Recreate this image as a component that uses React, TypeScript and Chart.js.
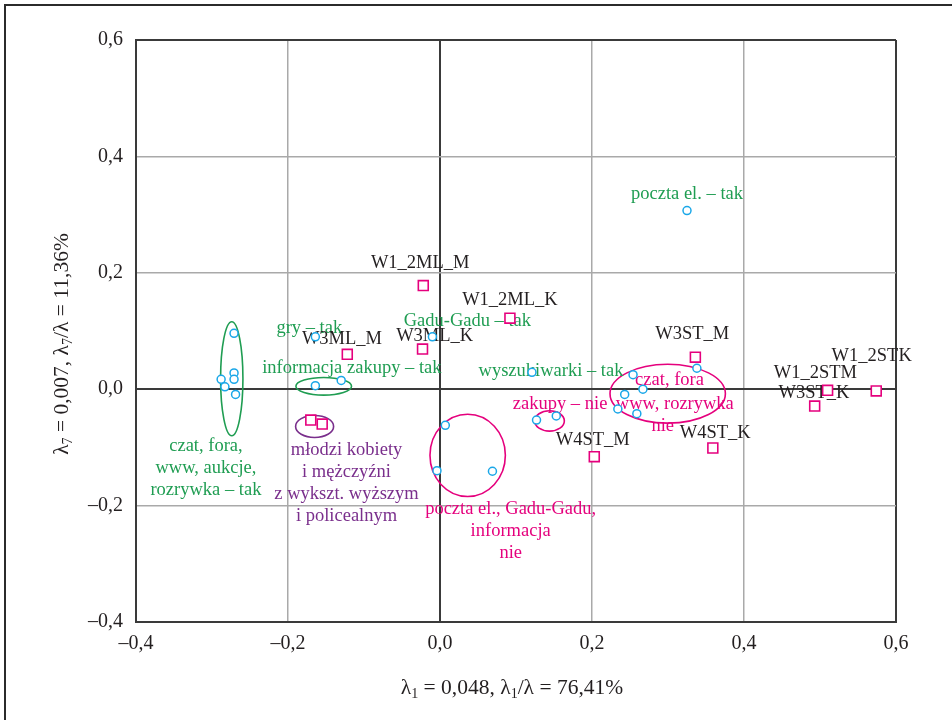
import React, { useEffect, useRef } from 'react';
import { Chart, registerables } from 'chart.js';

Chart.register(...registerables);

// ---- Data ----
// Rows (magenta squares)
const rowX = [-0.022, 0.092, -0.122, -0.023, -0.170, -0.155, 0.203, 0.336, 0.359, 0.510, 0.493, 0.574];
const rowY = [0.178, 0.122, 0.060, 0.069, -0.053, -0.060, -0.116, 0.055, -0.101, -0.002, -0.029, -0.003];

// Columns (cyan circles)
const colX = [-0.271, -0.271, -0.271, -0.288, -0.283, -0.269, -0.164, -0.130, -0.164, -0.010, 0.121, 0.325, 0.007, -0.004, 0.069, 0.127, 0.153, 0.254, 0.267, 0.243, 0.234, 0.259, 0.338];
const colY = [0.096, 0.028, 0.017, 0.017, 0.004, -0.009, 0.006, 0.015, 0.090, 0.090, 0.029, 0.307, -0.062, -0.140, -0.141, -0.053, -0.046, 0.025, 0.000, -0.009, -0.034, -0.042, 0.036];

// Axis ticks
const xTicks = [-0.4, -0.2, 0.0, 0.2, 0.4, 0.6];
const yTicks = [-0.4, -0.2, 0.0, 0.2, 0.4, 0.6];

// Row labels (black)
const blackText = ['W1_2ML_M', 'W1_2ML_K', 'W3ML_K', 'W3ML_M', 'W4ST_M', 'W3ST_M', 'W4ST_K', 'W1_2STM', 'W3ST_K', 'W1_2STK'];
const blackX = [-0.026, 0.092, -0.007, -0.129, 0.201, 0.332, 0.362, 0.494, 0.492, 0.568];
const blackY = [0.216, 0.153, 0.091, 0.086, -0.088, 0.094, -0.076, 0.027, -0.006, 0.057];

// Column group labels (green)
const greenText = [['gry – tak'], ['Gadu-Gadu – tak'], ['informacja zakupy – tak'], ['wyszukiwarki – tak'], ['poczta el. – tak'], ['czat, fora,', 'www, aukcje,', 'rozrywka – tak']];
const greenX = [-0.172, 0.036, -0.116, 0.146, 0.325, -0.308];
const greenY = [0.105, 0.117, 0.037, 0.031, 0.335, -0.098];

// Group labels (purple)
const purpleText = [['młodzi kobiety', 'i mężczyźni', 'z wykszt. wyższym', 'i policealnym']];
const purpleX = [-0.123];
const purpleY = [-0.105];

// Group labels (magenta)
const magentaText = [['poczta el., Gadu-Gadu,', 'informacja', 'nie'], ['zakupy – nie'], ['czat, fora'], ['www, rozrywka'], ['nie']];
const magentaX = [0.093, 0.158, 0.302, 0.309, 0.293];
const magentaY = [-0.206, -0.026, 0.016, -0.026, -0.064];

// Ellipses [cx, cy, rx, ry] in data units
const greenEllipses = [[-0.274, 0.018, 0.0147, 0.098], [-0.153, 0.005, 0.0366, 0.0151]];
const purpleEllipses = [[-0.165, -0.064, 0.025, 0.0189]];
const magentaEllipses = [[0.0364, -0.1137, 0.0496, 0.0707], [0.1441, -0.0546, 0.0195, 0.0175], [0.2996, -0.0077, 0.0759, 0.0506]];

// ---- Styles ----
const SERIF = '"Liberation Serif", "Times New Roman", serif';
const CYAN = '#1aa7e8';
const MAGENTA = '#e5007d';
const GREEN = '#1f9d52';
const PURPLE = '#7a2f8c';
const BLACK = '#231f20';
const DARK = '#3a3a3a';
const GRAY = '#a9a9a9';

const fmt = (v: number) => {
  const s = Math.abs(v).toFixed(1).replace('.', ',');
  return v < -1e-9 ? '–' + s : s;
};

const isEdge = (v: number) => Math.abs(v) < 1e-9 || Math.abs(v - 0.6) < 1e-9 || Math.abs(v + 0.4) < 1e-9;

type Part = { t: string; sub?: boolean };

function drawParts(ctx: CanvasRenderingContext2D, parts: Part[], size: number) {
  const main = `${size}px ${SERIF}`;
  const small = `${Math.round(size * 0.65)}px ${SERIF}`;
  let w = 0;
  const widths = parts.map(p => {
    ctx.font = p.sub ? small : main;
    const m = ctx.measureText(p.t).width;
    w += m;
    return m;
  });
  let x = -w / 2;
  parts.forEach((p, i) => {
    ctx.font = p.sub ? small : main;
    ctx.fillText(p.t, x, p.sub ? size * 0.28 : 0);
    x += widths[i];
  });
}

const annotPlugin = {
  id: 'annot',
  beforeDatasetsDraw(chart: any) {
    const { ctx } = chart;
    const xs = chart.scales.x;
    const ys = chart.scales.y;
    ctx.save();
    const drawEllipses = (list: number[][], color: string) => {
      ctx.strokeStyle = color;
      ctx.lineWidth = 1.6;
      list.forEach(([cx, cy, rx, ry]) => {
        const px = xs.getPixelForValue(cx);
        const py = ys.getPixelForValue(cy);
        const prx = Math.abs(xs.getPixelForValue(cx + rx) - px);
        const pry = Math.abs(ys.getPixelForValue(cy + ry) - py);
        ctx.beginPath();
        ctx.ellipse(px, py, prx, pry, 0, 0, Math.PI * 2);
        ctx.stroke();
      });
    };
    drawEllipses(greenEllipses, GREEN);
    drawEllipses(purpleEllipses, PURPLE);
    drawEllipses(magentaEllipses, MAGENTA);

    ctx.font = `18.5px ${SERIF}`;
    ctx.textAlign = 'center';
    ctx.textBaseline = 'middle';
    const lh = 22;
    const drawTexts = (texts: string[][], X: number[], Y: number[], color: string) => {
      ctx.fillStyle = color;
      texts.forEach((lines, i) => {
        const px = xs.getPixelForValue(X[i]);
        const py = ys.getPixelForValue(Y[i]);
        lines.forEach((line, j) => ctx.fillText(line, px, py + j * lh));
      });
    };
    drawTexts(greenText, greenX, greenY, GREEN);
    drawTexts(purpleText, purpleX, purpleY, PURPLE);
    drawTexts(magentaText, magentaX, magentaY, MAGENTA);
    drawTexts(blackText.map(t => [t]), blackX, blackY, BLACK);
    ctx.restore();
  },
  afterDraw(chart: any) {
    const { ctx, chartArea } = chart;
    ctx.save();
    // outer frame (left and top)
    ctx.strokeStyle = '#2b2b2b';
    ctx.lineWidth = 2;
    ctx.beginPath();
    ctx.moveTo(5, 720);
    ctx.lineTo(5, 5);
    ctx.lineTo(952, 5);
    ctx.stroke();

    ctx.fillStyle = BLACK;
    ctx.textBaseline = 'middle';
    ctx.textAlign = 'left';
    // x title
    ctx.save();
    ctx.translate((chartArea.left + chartArea.right) / 2 - 4, 688);
    drawParts(ctx, [{ t: 'λ' }, { t: '1', sub: true }, { t: ' = 0,048, λ' }, { t: '1', sub: true }, { t: '/λ = 76,41%' }], 21.5);
    ctx.restore();
    // y title
    ctx.save();
    ctx.translate(62, 344);
    ctx.rotate(-Math.PI / 2);
    drawParts(ctx, [{ t: 'λ' }, { t: '7', sub: true }, { t: ' = 0,007, λ' }, { t: '7', sub: true }, { t: '/λ = 11,36%' }], 21.5);
    ctx.restore();
    ctx.restore();
  },
};

export default function App() {
  const ref = useRef<HTMLCanvasElement>(null);
  useEffect(() => {
    document.body.style.margin = '0';
    const canvas = ref.current!;
    const rows = rowX.map((x, i) => ({ x, y: rowY[i] }));
    const cols = colX.map((x, i) => ({ x, y: colY[i] }));
    const chart = new Chart(canvas, {
      type: 'scatter',
      data: {
        datasets: [
          {
            label: 'rows',
            data: rows,
            pointStyle: 'rect',
            pointRadius: 7,
            borderColor: MAGENTA,
            backgroundColor: '#ffffff',
            pointBorderWidth: 1.6,
          },
          {
            label: 'cols',
            data: cols,
            pointStyle: 'circle',
            pointRadius: 4,
            borderColor: CYAN,
            backgroundColor: '#ffffff',
            pointBorderWidth: 1.5,
          },
        ],
      },
      options: {
        responsive: false,
        animation: false,
        devicePixelRatio: 1,
        layout: { padding: { left: 0, top: 40, right: 56, bottom: 0 } },
        plugins: { legend: { display: false }, tooltip: { enabled: false } },
        scales: {
          x: {
            type: 'linear',
            min: -0.4,
            max: 0.6,
            afterFit: (s: any) => { s.height = 98; },
            afterBuildTicks: (s: any) => { s.ticks = xTicks.map(v => ({ value: v })); },
            ticks: {
              callback: (v: any) => fmt(Number(v)),
              font: { family: SERIF, size: 20 },
              color: BLACK,
              padding: 10,
            },
            grid: {
              drawTicks: false,
              color: (c: any) => (isEdge(c.tick?.value ?? 1) ? DARK : GRAY),
              lineWidth: (c: any) => (isEdge(c.tick?.value ?? 1) ? 2 : 1.5),
            },
            border: { display: true, color: DARK, width: 2 },
          },
          y: {
            type: 'linear',
            min: -0.4,
            max: 0.6,
            afterFit: (s: any) => { s.width = 136; },
            afterBuildTicks: (s: any) => { s.ticks = yTicks.map(v => ({ value: v })); },
            ticks: {
              callback: (v: any) => fmt(Number(v)),
              font: { family: SERIF, size: 20 },
              color: BLACK,
              padding: 13,
            },
            grid: {
              drawTicks: false,
              color: (c: any) => (isEdge(c.tick?.value ?? 1) ? DARK : GRAY),
              lineWidth: (c: any) => (isEdge(c.tick?.value ?? 1) ? 2 : 1.5),
            },
            border: { display: true, color: DARK, width: 2 },
          },
        },
      },
      plugins: [annotPlugin],
    });
    return () => chart.destroy();
  }, []);
  return <canvas ref={ref} width={952} height={720} style={{ display: 'block' }} />;
}
